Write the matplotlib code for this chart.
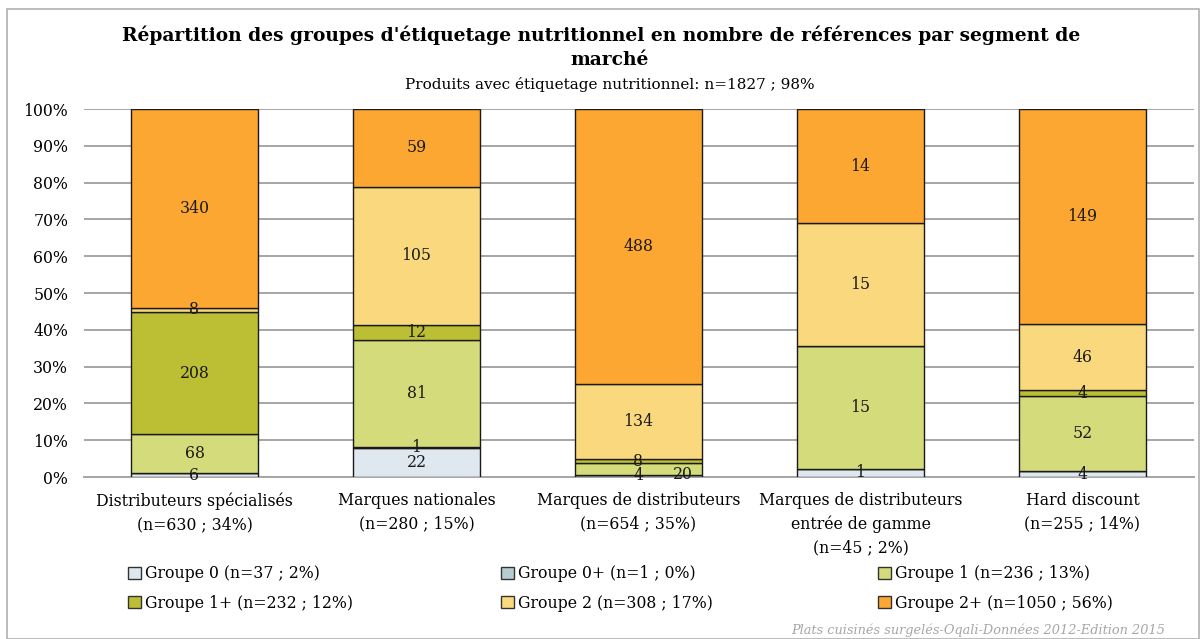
import matplotlib
matplotlib.use("Agg")
import matplotlib.pyplot as plt
from matplotlib.patches import Rectangle, Patch
import numpy as np

# ---------- data ----------
categories = ["Distributeurs spécialisés\n(n=630 ; 34%)",
              "Marques nationales\n(n=280 ; 15%)",
              "Marques de distributeurs\n(n=654 ; 35%)",
              "Marques de distributeurs\nentrée de gamme\n(n=45 ; 2%)",
              "Hard discount\n(n=255 ; 14%)"]
groups = ["Groupe 0 (n=37 ; 2%)", "Groupe 0+ (n=1 ; 0%)", "Groupe 1 (n=236 ; 13%)",
          "Groupe 1+ (n=232 ; 12%)", "Groupe 2 (n=308 ; 17%)", "Groupe 2+ (n=1050 ; 56%)"]
g0 = [6, 22, 4, 1, 4]
g0p = [0, 1, 0, 0, 0]
g1 = [68, 81, 20, 15, 52]
g1p = [208, 12, 8, 0, 4]
g2 = [8, 105, 134, 15, 46]
g2p = [340, 59, 488, 14, 149]
yticks = [0, 10, 20, 30, 40, 50, 60, 70, 80, 90, 100]

colors = ["#DEE8EE", "#B5CCD2", "#D4DB7B", "#BCBE33", "#FAD97E", "#FBA731"]
SERIF = "DejaVu Serif"
FS = 11.3

counts = np.array([g0, g0p, g1, g1p, g2, g2p], float)
totals = counts.sum(axis=0)
pct = counts / totals * 100

fig = plt.figure(figsize=(12.03, 6.39), dpi=100)
fig.patches.append(Rectangle((7 / 1203, 0.0), 1192 / 1203, 630 / 639, transform=fig.transFigure,
                             fill=False, edgecolor="#B0B0B0", lw=1.2))
ax = fig.add_axes([83.5 / 1203, 1 - 477 / 639, 1110 / 1203, 368 / 639])

x = np.arange(len(categories))
bottom = np.zeros(len(categories))
for i in range(len(groups)):
    ax.bar(x, pct[i], 0.575, bottom=bottom, color=colors[i], edgecolor="#1a1a1a", lw=1.0, zorder=3)
    for j in range(len(categories)):
        if counts[i, j] > 0:
            # the "20" label sits to the right of its thin segment, as in the source
            dx = 0.2 if (i == 2 and j == 2) else 0
            dy = -1.5 if (i == 2 and j == 2) else 0
            ax.text(x[j] + dx, bottom[j] + pct[i, j] / 2 + dy, f"{int(counts[i, j])}",
                    ha="center", va="center", fontsize=FS, family=SERIF, color="#1a1a1a", zorder=4)
    bottom += pct[i]

ax.set_xlim(-0.5, len(categories) - 0.5)
ax.set_ylim(0, 100)
ax.set_yticks(yticks)
ax.set_yticklabels([f"{t}%" for t in yticks], family=SERIF, fontsize=FS)
ax.set_xticks(x)
ax.set_xticklabels(categories, family=SERIF, fontsize=FS, linespacing=1.48)
ax.tick_params(axis="y", length=0, pad=11)
ax.tick_params(axis="x", length=0, pad=11)
ax.grid(axis="y", color="#A6A6A6", lw=1.4, zorder=0)
for s in ["top", "right", "left"]:
    ax.spines[s].set_visible(False)
ax.spines["bottom"].set_color("#A6A6A6")
ax.spines["bottom"].set_linewidth(1.4)

fig.text(0.5, 1 - 35 / 639, "Répartition des groupes d'étiquetage nutritionnel en nombre de références par segment de",
         ha="center", va="center", fontsize=13.4, fontweight="bold", family=SERIF)
fig.text(0.507, 1 - 60 / 639, "marché", ha="center", va="center", fontsize=13.4, fontweight="bold", family=SERIF)
fig.text(0.507, 1 - 84 / 639, "Produits avec étiquetage nutritionnel: n=1827 ; 98%",
         ha="center", va="center", fontsize=11, family=SERIF)

# legend: three columns, filled row by row
col_x = [128 / 1203, 501 / 1203, 878 / 1203]
for c in range(3):
    idx = [c, c + 3]
    handles = [Patch(facecolor=colors[k], edgecolor="#333333", lw=1.0) for k in idx]
    fig.legend(handles, [groups[k] for k in idx], loc="upper left",
               bbox_to_anchor=(col_x[c], 1 - 565 / 639), frameon=False,
               prop={"family": SERIF, "size": FS}, handlelength=0.8, handleheight=0.8,
               handletextpad=0.3, labelspacing=0.8, borderaxespad=0, borderpad=0)

fig.text(1165 / 1203, 1 - 630 / 639, "Plats cuisinés surgelés-Oqali-Données 2012-Edition 2015",
         ha="right", va="center", fontsize=9.3, style="italic", color="#A6A6A6", family=SERIF)

fig.savefig("out.png", dpi=100)
